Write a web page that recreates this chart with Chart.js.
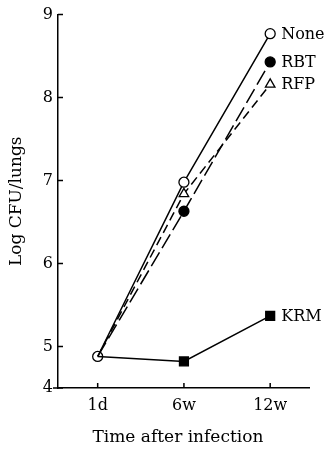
<!DOCTYPE html>
<html><head><meta charset="utf-8">
<script src="https://cdn.jsdelivr.net/npm/chart.js@4"></script>
<style>html,body{margin:0;padding:0;background:#fff}canvas{display:block}</style>
</head><body>
<canvas id="c" width="329" height="452"></canvas>
<script>
const timeLabels = ['1d', '6w', '12w'];
const yTickLabels = [4, 5, 6, 7, 8, 9];
const seriesNames = ['None', 'RBT', 'RFP', 'KRM'];
const noneValues = [4.88, 6.98, 8.77];
const rbtValues  = [4.88, 6.63, 8.43];
const rfpValues  = [4.88, 6.84, 8.16];
const krmValues  = [4.88, 4.82, 5.37];
const xTitle = 'Time after infection';
const yTitle = 'Log CFU/lungs';
const axisBreak = 4.5; // the axis is compressed below 5: "4" sits at the break

const FONT = '"DejaVu Serif", "Liberation Serif", serif';
const FS = 16;
const pts = v => v.map((y, i) => ({x: i, y}));

const styles = [
  {pointStyle: 'circle', radius: [5,5,5], fill: '#fff', dash: []},
  {pointStyle: 'circle', radius: [0,5,5], fill: '#000', dash: [16,5]},
  {pointStyle: 'triangle', radius: [0,5.5,5.5], fill: '#fff', dash: [9,5]},
  {pointStyle: 'rect', radius: [0,6.3,6.3], fill: '#000', dash: []}
];
const values = [noneValues, rbtValues, rfpValues, krmValues];

const datasets = values.map((v, i) => ({
  label: seriesNames[i],
  data: pts(v),
  borderColor: '#000',
  borderWidth: 1.5,
  borderDash: styles[i].dash,
  pointStyle: styles[i].pointStyle,
  pointRadius: styles[i].radius,
  pointBackgroundColor: styles[i].fill,
  pointBorderColor: '#000',
  pointBorderWidth: 1.3,
  fill: false,
  tension: 0,
  clip: false
})).reverse();

const innerTicks = {
  id: 'innerTicks',
  afterDraw(chart) {
    const {ctx, chartArea: a, scales: {x, y}} = chart;
    ctx.save();
    ctx.strokeStyle = '#000';
    ctx.lineWidth = 1.5;
    ctx.beginPath();
    y.ticks.forEach(t => { const py = y.getPixelForValue(t.value); ctx.moveTo(a.left, py); ctx.lineTo(a.left + 5, py); });
    x.ticks.forEach(t => { const px = x.getPixelForValue(t.value); ctx.moveTo(px, a.bottom); ctx.lineTo(px, a.bottom - 5); });
    ctx.moveTo(a.left - 5, a.bottom); ctx.lineTo(a.left, a.bottom);
    ctx.stroke();
    ctx.fillStyle = '#000';
    ctx.font = FS + 'px ' + FONT;
    ctx.textBaseline = 'middle';
    ctx.textAlign = 'left';
    values.forEach((v, i) => {
      const last = v.length - 1;
      ctx.fillText(seriesNames[i], x.getPixelForValue(last) + 11, y.getPixelForValue(v[last]) + 1);
    });
    // x-axis title, centred under the tick range
    ctx.font = '17px ' + FONT;
    ctx.textAlign = 'center';
    ctx.fillText(xTitle, (x.getPixelForValue(0) + x.getPixelForValue(timeLabels.length - 1)) / 2 - 6, 438);
    ctx.restore();
  }
};

new Chart(document.getElementById('c'), {
  type: 'line',
  data: {datasets},
  options: {
    responsive: false,
    animation: false,
    devicePixelRatio: 1,
    layout: {padding: {top: 13, right: 20, left: 0, bottom: 0}},
    plugins: {legend: {display: false}, tooltip: {enabled: false}},
    scales: {
      x: {
        type: 'linear', min: -0.46, max: 2.45,
        afterBuildTicks: s => { s.ticks = timeLabels.map((_, i) => ({value: i})); },
        afterFit: s => { s.height = 64; },
        grid: {display: false, drawTicks: false},
        border: {display: true, color: '#000', width: 1.5},
        ticks: {color: '#000', font: {family: FONT, size: FS}, padding: 8,
                callback: v => timeLabels[v]},
        title: {display: false}
      },
      y: {
        type: 'linear', min: axisBreak, max: 9,
        afterBuildTicks: s => { s.ticks = yTickLabels.map(v => ({value: Math.max(v, axisBreak)})); },
        afterFit: s => { s.width = 58; },
        grid: {display: false, drawTicks: false},
        border: {display: true, color: '#000', width: 1.5},
        ticks: {color: '#000', font: {family: FONT, size: FS}, padding: 5,
                callback: v => String(v === axisBreak ? yTickLabels[0] : v)},
        title: {display: true, text: yTitle, color: '#000',
                font: {family: FONT, size: 17}, padding: {top: 6, bottom: 0}}
      }
    }
  },
  plugins: [innerTicks]
});
</script>
</body></html>
